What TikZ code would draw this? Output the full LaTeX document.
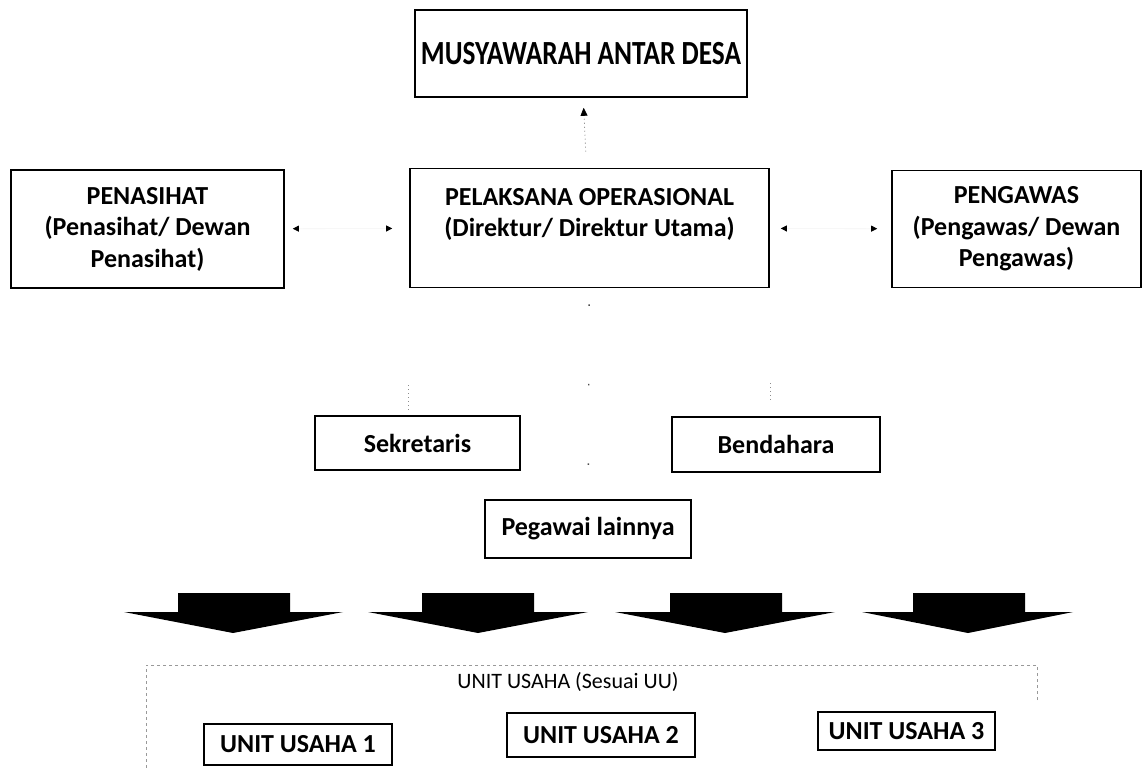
\documentclass[tikz,border=0pt]{standalone}
\usepackage{fontspec}
\setmainfont{Carlito}
\usetikzlibrary{arrows.meta}
\begin{document}
\begin{tikzpicture}[x=1pt,y=-1pt,
  box/.style={draw=black, line width=1.6pt, inner sep=0pt, align=center,
    font=\fontsize{26}{31.5}\selectfont\bfseries},
  faint/.style={draw=black!45, line width=0.8pt, dash pattern=on 1pt off 3pt},
  ghost/.style={draw=black!3, line width=0.8pt,
    {Triangle[length=6pt,width=6pt,color=black]}-{Triangle[length=6pt,width=6pt,color=black]}},
  sparse/.style={draw=black!70, line width=1.4pt, dash pattern=on 1.5pt off 78pt, dash phase=63.5pt},
  container/.style={draw=black!40, line width=0.8pt, dash pattern=on 3pt off 3pt},
  bigarrow/.style={fill=black},
  lbl/.style={font=\fontsize{22}{26}\selectfont, inner sep=0pt}]
\useasboundingbox (0,0) rectangle (1143,768);
\fill[white] (0,0) rectangle (1143,768);

% top box
\node[box, minimum width=332pt, minimum height=87pt] (mus) at (581,53.5)
  {\scalebox{1.05}[1.3]{MUSYAWARAH ANTAR DESA}};

% middle row
\node[box, minimum width=273pt, minimum height=118pt] (pen) at (147.5,229)
  {PENASIHAT\\(Penasihat/ Dewan\\Penasihat)};
\node[box, minimum width=359pt, minimum height=119pt] (pel) at (589.5,228)
  {PELAKSANA OPERASIONAL\\(Direktur/ Direktur Utama)\\\mbox{}};
\node[box, minimum width=249pt, minimum height=117pt] (pgw) at (1016.5,229)
  {PENGAWAS\\(Pengawas/ Dewan\\Pengawas)};

% staff
\node[box, minimum width=205pt, minimum height=54pt] (sek) at (417.5,443) {Sekretaris};
\node[box, minimum width=208pt, minimum height=55pt] (ben) at (776,444.5) {Bendahara};
\node[box, minimum width=206pt, minimum height=58pt] (peg) at (588,529) {Pegawai lainnya};

% connectors
\draw[faint, -{Triangle[length=8pt,width=7pt,color=black]}, shorten <=16pt, shorten >=10pt] (pel) -- (mus);
\draw[ghost, shorten <=8pt, shorten >=17pt] (pen) -- (pel);
\draw[ghost, shorten <=11pt, shorten >=14pt] (pel) -- (pgw);
\draw[sparse] (pel) -- (peg);
\coordinate (s1) at (408,385);
\coordinate (s2) at (408,412);
\coordinate (b1) at (770,383);
\coordinate (b2) at (770,402);
\draw[faint] (s1) -- (s2);
\draw[faint] (b1) -- (b2);

% big arrows
\foreach \wl/\sl/\sr/\wr/\t in {124/178/290/343/233, 368/422/534/588/478,
  615/670/782/835/725, 862/913/1025/1073/968}
  \fill[bigarrow] (\sl,593) -- (\sr,593) -- (\sr,612) -- (\wr,612) -- (\t,633)
    -- (\wl,612) -- (\sl,612) -- cycle;

% units container
\draw[container] (1037,700) -- (1037,665) -- (146,665) -- (146,768);
\node[lbl] (uu) at (568,682) {UNIT USAHA (Sesuai UU)};
\node[box, minimum width=188pt, minimum height=41pt] (u1) at (298,744.5) {UNIT USAHA 1};
\node[box, minimum width=188pt, minimum height=44pt] (u2) at (601,735) {UNIT USAHA 2};
\node[box, minimum width=177pt, minimum height=38pt] (u3) at (906.5,731) {UNIT USAHA 3};
\end{tikzpicture}
\end{document}
